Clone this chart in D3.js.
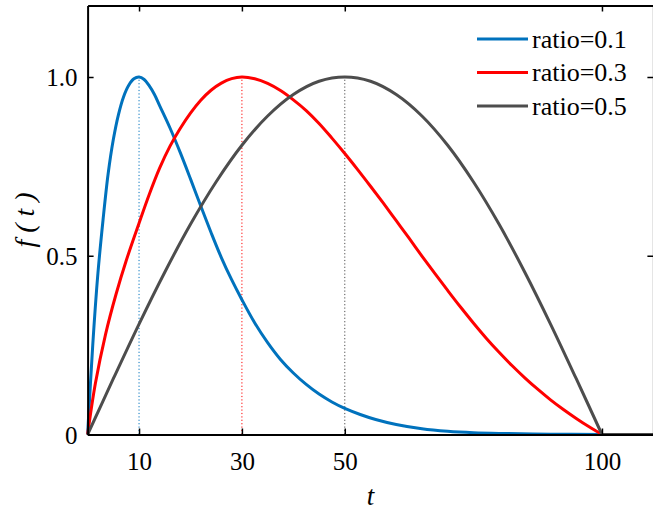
<!DOCTYPE html>
<html>
<head>
<meta charset="utf-8">
<script src="https://cdn.jsdelivr.net/npm/d3@7"></script>
<style>
  html, body { margin: 0; padding: 0; background: #fff; }
  svg { display: block; }
  text { font-family: "Liberation Serif", "Times New Roman", Times, serif; fill: #000; }
</style>
</head>
<body>
<svg id="chart" width="653" height="510"></svg>
<script>
// Pulse shapes f(t) for three peak ratios (peak at ratio * 100), zero after t = 100
const seriesNames = ["ratio=0.1", "ratio=0.3", "ratio=0.5"];
const seriesColors = ["#0072BD", "#FF0000", "#4D4D4D"];
const peakTimes = [10, 30, 50];

const tBlue = [0, 1, 2, 3, 4, 5, 6, 7, 8, 9, 10, 11, 12, 13, 14, 16, 18, 20, 22, 24, 26, 28, 30, 32.5, 35, 37.5, 40, 42.5, 45, 47.5, 50, 53, 56, 60, 65, 70, 75, 80, 90, 100, 110];
const fBlue = [0, 0.25, 0.45, 0.60, 0.73, 0.825, 0.895, 0.945, 0.977, 0.995, 1.0, 0.993, 0.975, 0.951, 0.92, 0.858, 0.789, 0.715, 0.639, 0.565, 0.495, 0.433, 0.377, 0.312, 0.257, 0.21, 0.172, 0.14, 0.113, 0.091, 0.073, 0.056, 0.042, 0.028, 0.016, 0.009, 0.005, 0.003, 0.001, 0, 0];

const tRed = [0, 1.5, 3.5, 5.5, 7.5, 10, 12, 14, 16, 18, 20, 22, 24, 26, 28, 30, 32.5, 35, 37.5, 40, 42.5, 45, 47.5, 50, 52.5, 55, 57.5, 60, 62.5, 65, 67.5, 70, 72.5, 75, 77.5, 80, 82.5, 85, 87.5, 90, 92.5, 95, 97.5, 100, 110];
const fRed = [0, 0.142, 0.281, 0.391, 0.486, 0.591, 0.672, 0.745, 0.806, 0.856, 0.899, 0.935, 0.963, 0.983, 0.9955, 1.0, 0.995, 0.982, 0.962, 0.936, 0.906, 0.87, 0.829, 0.786, 0.741, 0.6945, 0.647, 0.598, 0.549, 0.499, 0.4505, 0.403, 0.3565, 0.312, 0.2695, 0.23, 0.193, 0.1586, 0.1267, 0.097, 0.07, 0.045, 0.0215, 0, 0];

const tGray = [0, 5, 10, 15, 20, 25, 30, 35, 40, 45, 50, 55, 60, 65, 70, 75, 80, 85, 90, 95, 100, 110];
const fGray = [0, 0.156, 0.309, 0.454, 0.588, 0.707, 0.809, 0.891, 0.951, 0.988, 1.0, 0.988, 0.951, 0.891, 0.809, 0.707, 0.588, 0.454, 0.309, 0.156, 0, 0];

const xTicks = [10, 30, 50, 100];
const yTicks = [0, 0.5, 1.0];
const yTickLabels = ["0", "0.5", "1.0"];

const seriesT = [tBlue, tRed, tGray];
const seriesF = [fBlue, fRed, fGray];
const tEnd = 100; // pulse ends here; the tail is flat

const svg = d3.select("#chart");
const x = d3.scaleLinear().domain([0, 110]).range([87.6, 653.4]);
const y = d3.scaleLinear().domain([0, 1.2]).range([434.5, 5.5]);

// Dotted guides from the axis up to each peak
peakTimes.forEach((p, i) => {
  svg.append("line")
    .attr("x1", x(p)).attr("x2", x(p))
    .attr("y1", y(0)).attr("y2", y(1))
    .attr("stroke", seriesColors[i])
    .attr("stroke-width", 1)
    .attr("stroke-dasharray", "1.2,2.2");
});

// Curves: smooth pulse up to t = 100, straight flat tail afterwards
const smooth = d3.line()
  .x(d => x(d[0]))
  .y(d => y(d[1]))
  .curve(d3.curveCatmullRom.alpha(0.5));
const straight = d3.line()
  .x(d => x(d[0]))
  .y(d => y(d[1]));

seriesT.forEach((ts, i) => {
  const pts = ts.map((t, k) => [t, seriesF[i][k]]);
  const g = svg.append("g")
    .attr("fill", "none")
    .attr("stroke", seriesColors[i])
    .attr("stroke-width", 3)
    .attr("stroke-linejoin", "round");
  g.append("path").attr("d", smooth(pts.filter(d => d[0] <= tEnd)));
  g.append("path").attr("d", straight(pts.filter(d => d[0] >= tEnd)));
});

// Axes (closed box with inward ticks)
const fontSize = 25;
const gB = svg.append("g").attr("transform", `translate(0,${y(0)})`)
  .call(d3.axisBottom(x).tickValues(xTicks).tickSizeInner(-6).tickSizeOuter(0).tickPadding(18));
const gT = svg.append("g").attr("transform", `translate(0,${y(1.2)})`)
  .call(d3.axisTop(x).tickValues(xTicks).tickSizeInner(-6).tickSizeOuter(0).tickFormat(""));
const gL = svg.append("g").attr("transform", `translate(${x(0)},0)`)
  .call(d3.axisLeft(y).tickValues(yTicks).tickSizeInner(-6).tickSizeOuter(0).tickPadding(10)
    .tickFormat((d, i) => yTickLabels[i]));
const gR = svg.append("g").attr("transform", `translate(${x(110)},0)`)
  .call(d3.axisRight(y).tickValues(yTicks).tickSizeInner(-6).tickSizeOuter(0).tickFormat(""));

[gB, gT, gL, gR].forEach(g => {
  g.attr("font-family", null);
  g.select(".domain").attr("stroke", "#000").attr("stroke-width", 2);
  g.selectAll(".tick line").attr("stroke", "#000").attr("stroke-width", 1.5);
  g.selectAll(".tick text")
    .style("font-family", '"Liberation Serif", "Times New Roman", Times, serif')
    .attr("font-size", fontSize)
    .attr("fill", "#000");
});
gL.selectAll(".tick text").attr("dy", "0.34em");

// Axis titles
svg.append("text")
  .attr("x", x(55)).attr("y", 505)
  .attr("text-anchor", "middle")
  .attr("font-size", 27)
  .attr("font-style", "italic")
  .text("t");

svg.append("text")
  .attr("transform", "translate(34,220) rotate(-90)")
  .attr("text-anchor", "middle")
  .attr("font-size", 28)
  .attr("font-style", "italic")
  .attr("xml:space", "preserve")
  .text("f ( t )");

// Legend
const legend = svg.append("g");
const legendY = [39, 72.5, 106];
seriesNames.forEach((name, i) => {
  legend.append("line")
    .attr("x1", 477).attr("x2", 528)
    .attr("y1", legendY[i]).attr("y2", legendY[i])
    .attr("stroke", seriesColors[i])
    .attr("stroke-width", 3);
  legend.append("text")
    .attr("x", 532).attr("y", legendY[i])
    .attr("dy", "0.34em")
    .attr("font-size", 26)
    .text(name);
});
</script>
</body>
</html>
